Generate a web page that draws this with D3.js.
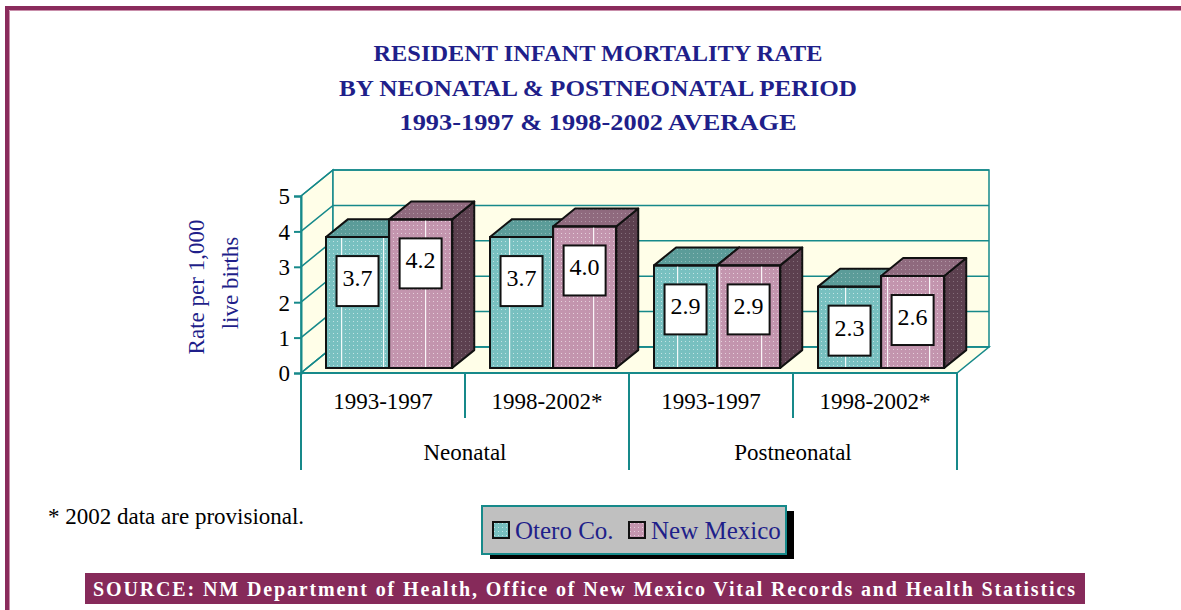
<!DOCTYPE html>
<html>
<head>
<meta charset="utf-8">
<script src="https://cdn.jsdelivr.net/npm/d3@7"></script>
<style>
  body { margin: 0; background: #fff; }
  svg { display: block; }
  svg text { font-family: "Liberation Serif", "Times New Roman", serif; }
</style>
</head>
<body>
<div id="chart"></div>
<script>
// data
const titleLines = ["RESIDENT INFANT MORTALITY RATE", "BY NEONATAL & POSTNEONATAL PERIOD", "1993-1997 & 1998-2002 AVERAGE"];
const periods = ["Neonatal", "Postneonatal"];
const spans = ["1993-1997", "1998-2002*"];
const series = ["Otero Co.", "New Mexico"];
const otero = [3.7, 3.7, 2.9, 2.3];
const newMexico = [4.2, 4.0, 2.9, 2.6];
const yTicks = [0, 1, 2, 3, 4, 5];
const yLabel = ["Rate per 1,000", "live births"];
const footnote = "* 2002 data are provisional.";
const source = "SOURCE: NM Department of Health, Office of New Mexico Vital Records and Health Statistics";

const W = 1181, H = 610;
const navy = "#1f1f8a", teal = "#16898a", wall = "#fffee8";

const svg = d3.select("#chart").append("svg")
    .attr("width", W)
    .attr("height", H);

// patterns
const defs = svg.append("defs");
function dots(id, base, dot, op) {
    const p = defs.append("pattern").attr("id", id)
        .attr("patternUnits", "userSpaceOnUse").attr("width", 4).attr("height", 4);
    p.append("rect").attr("width", 4).attr("height", 4).attr("fill", base);
    p.append("rect").attr("x", 1).attr("y", 1).attr("width", 1).attr("height", 1)
        .attr("fill", dot).attr("opacity", op);
}
dots("oteroFront", "#78c0c0", "#ffffff", 0.55);
dots("oteroTop", "#5b9c99", "#ffffff", 0.3);
dots("oteroSide", "#3f6e6c", "#ffffff", 0.25);
dots("nmFront", "#c395ae", "#ffffff", 0.55);
dots("nmTop", "#8f6a7e", "#ffffff", 0.3);
dots("nmSide", "#5c404f", "#ffffff", 0.25);
const stripes = defs.append("pattern").attr("id", "stripes")
    .attr("patternUnits", "userSpaceOnUse").attr("width", 42).attr("height", 10).attr("x", 341);
stripes.append("rect").attr("width", 1.2).attr("height", 10).attr("fill", "#fff").attr("opacity", 0.9);

const fills = {
    "Otero Co.": {front: "url(#oteroFront)", top: "url(#oteroTop)", side: "url(#oteroSide)"},
    "New Mexico": {front: "url(#nmFront)", top: "url(#nmTop)", side: "url(#nmSide)"}
};

// page frame
svg.append("path").attr("d", `M7,${H}V8H${W}`)
    .attr("fill", "none").attr("stroke", "#8a2b5c").attr("stroke-width", 4);
svg.append("path").attr("d", `M9.5,${H}V10.5H${W}`)
    .attr("fill", "none").attr("stroke", "#c98fab").attr("stroke-width", 1);

// title
svg.append("g").selectAll("text")
    .data(titleLines)
    .enter().append("text")
    .attr("x", 598)
    .attr("y", (d, i) => 61 + i * 34.5)
    .attr("text-anchor", "middle")
    .attr("fill", navy)
    .attr("font-weight", "bold")
    .attr("font-size", 23)
    .attr("textLength", (d, i) => [449, 518, 397][i])
    .attr("lengthAdjust", "spacingAndGlyphs")
    .text(d => d);

// scales and 3d projection
const rows = [];
periods.forEach((p, pi) => spans.forEach((s, si) => {
    const i = pi * spans.length + si;
    rows.push({i: i, period: p, span: s, values: [otero[i], newMexico[i]]});
}));

const DX = 32, DY = 26, F0 = 0.19, F1 = 0.88;
const x0 = d3.scaleBand().domain(d3.range(rows.length)).range([301, 957]);
const x1 = d3.scaleBand().domain(series).range([0, x0.bandwidth()]).paddingOuter(0.3);
const y = d3.scaleLinear().domain([0, 5]).range([373, 196]);
const proj = (x, yy, f) => [x + f * DX, yy - f * DY];
const poly = pts => "M" + pts.map(p => p.join(",")).join("L") + "Z";

const xa = x0.range()[0], xb = x0.range()[1];
const g = svg.append("g");

// walls and floor
g.append("path").attr("d", poly([[xa, y(0)], proj(xa, y(0), 1), proj(xa, y(5), 1), [xa, y(5)]]))
    .attr("fill", wall).attr("stroke", teal).attr("stroke-width", 1.5);
g.append("path").attr("d", poly([proj(xa, y(0), 1), proj(xb, y(0), 1), proj(xb, y(5), 1), proj(xa, y(5), 1)]))
    .attr("fill", wall).attr("stroke", teal).attr("stroke-width", 1.5);
g.append("path").attr("d", poly([[xa, y(0)], [xb, y(0)], proj(xb, y(0), 1), proj(xa, y(0), 1)]))
    .attr("fill", wall).attr("stroke", teal).attr("stroke-width", 1.5);

// gridlines on back and side walls
yTicks.forEach(t => {
    g.append("path")
        .attr("d", "M" + [[xa, y(t)], proj(xa, y(t), 1), proj(xb, y(t), 1)].map(p => p.join(",")).join("L"))
        .attr("fill", "none").attr("stroke", teal).attr("stroke-width", 1.5);
});

// y axis
const yAxis = g.append("g")
    .attr("transform", `translate(${xa},0)`)
    .call(d3.axisLeft(y).tickValues(yTicks).tickSize(7).tickPadding(4).tickFormat(d3.format("d")));
yAxis.select(".domain").attr("stroke", teal).attr("stroke-width", 2);
yAxis.selectAll(".tick line").attr("stroke", teal).attr("stroke-width", 2);
yAxis.selectAll(".tick text").attr("fill", "#000").attr("font-size", 23).attr("dy", "0.34em");

// y label
svg.append("g").selectAll("text")
    .data(yLabel)
    .enter().append("text")
    .attr("transform", (d, i) => `translate(${[204, 238][i]},${[287, 283][i]}) rotate(-90)`)
    .attr("text-anchor", "middle")
    .attr("fill", navy)
    .attr("font-size", 23)
    .text(d => d);

// category axis
g.append("line").attr("x1", xa).attr("x2", xb).attr("y1", y(0)).attr("y2", y(0))
    .attr("stroke", teal).attr("stroke-width", 2);
rows.concat([{i: rows.length}]).forEach(r => {
    const x = r.i < rows.length ? x0(r.i) : xb;
    const major = r.i % spans.length === 0;
    g.append("line").attr("x1", x).attr("x2", x)
        .attr("y1", y(0)).attr("y2", major ? 470 : 418)
        .attr("stroke", teal).attr("stroke-width", 2);
});
g.selectAll(".span-label")
    .data(rows)
    .enter().append("text")
    .attr("class", "span-label")
    .attr("x", d => x0(d.i) + x0.bandwidth() / 2)
    .attr("y", 409)
    .attr("text-anchor", "middle")
    .attr("font-size", 23)
    .text(d => d.span);
g.selectAll(".period-label")
    .data(periods)
    .enter().append("text")
    .attr("class", "period-label")
    .attr("x", (d, i) => x0(i * spans.length) + x0.bandwidth() * spans.length / 2)
    .attr("y", 460)
    .attr("text-anchor", "middle")
    .attr("font-size", 23)
    .text(d => d);

// bars
const bars = [];
rows.forEach(r => series.forEach((s, si) => {
    bars.push({i: r.i, s: s, v: r.values[si], xl: x0(r.i) + x1(s), xr: x0(r.i) + x1(s) + x1.bandwidth()});
}));

const barG = g.append("g").attr("stroke", "#111").attr("stroke-width", 2).attr("stroke-linejoin", "round");
bars.forEach(b => {
    const yt = y(b.v), y0 = y(0);
    barG.append("path")
        .attr("d", poly([proj(b.xr, yt, F0), proj(b.xr, yt, F1), proj(b.xr, y0, F1), proj(b.xr, y0, F0)]))
        .attr("fill", fills[b.s].side);
    barG.append("path")
        .attr("d", poly([proj(b.xl, yt, F0), proj(b.xl, yt, F1), proj(b.xr, yt, F1), proj(b.xr, yt, F0)]))
        .attr("fill", fills[b.s].top);
    const front = poly([proj(b.xl, yt, F0), proj(b.xr, yt, F0), proj(b.xr, y0, F0), proj(b.xl, y0, F0)]);
    barG.append("path").attr("d", front).attr("fill", fills[b.s].front);
    barG.append("path").attr("d", front).attr("fill", "url(#stripes)").attr("stroke", "none");
    barG.append("path").attr("d", front).attr("fill", "none");
});

// value labels
const lab = g.selectAll(".val")
    .data(bars)
    .enter().append("g")
    .attr("class", "val")
    .attr("transform", d => {
        const p = proj((d.xl + d.xr) / 2, y(d.v), F0);
        return `translate(${p[0]},${p[1] + 44})`;
    });
lab.append("rect")
    .attr("x", -21).attr("y", -25).attr("width", 42).attr("height", 50)
    .attr("fill", "#fff").attr("stroke", "#111").attr("stroke-width", 2);
lab.append("text")
    .attr("text-anchor", "middle")
    .attr("y", 5)
    .attr("font-size", 24)
    .text(d => d3.format(".1f")(d.v));

// footnote
svg.append("text")
    .attr("x", 48).attr("y", 524)
    .attr("font-size", 23)
    .text(footnote);

// legend
const leg = svg.append("g").attr("transform", "translate(482,506)");
leg.append("rect").attr("x", 8).attr("y", 5).attr("width", 304).attr("height", 48).attr("fill", "#000");
leg.append("rect").attr("width", 304).attr("height", 48)
    .attr("fill", "#c0c0c0").attr("stroke", teal).attr("stroke-width", 2);
const legX = [11, 147];
const item = leg.selectAll(".item")
    .data(series)
    .enter().append("g")
    .attr("class", "item")
    .attr("transform", (d, i) => `translate(${legX[i]},16)`);
item.append("rect").attr("width", 16).attr("height", 16)
    .attr("fill", d => fills[d].front).attr("stroke", "#111").attr("stroke-width", 2);
item.append("text").attr("x", 22).attr("y", 17)
    .attr("fill", navy).attr("font-size", 25)
    .text(d => d);

// source banner
svg.append("rect").attr("x", 85).attr("y", 573).attr("width", 1000).attr("height", 31).attr("fill", "#862a5a");
svg.append("text")
    .attr("x", 93).attr("y", 596)
    .attr("fill", "#fff")
    .attr("font-weight", "bold")
    .attr("font-size", 20)
    .attr("textLength", 982)
    .attr("lengthAdjust", "spacing")
    .text(source);
</script>
</body>
</html>
